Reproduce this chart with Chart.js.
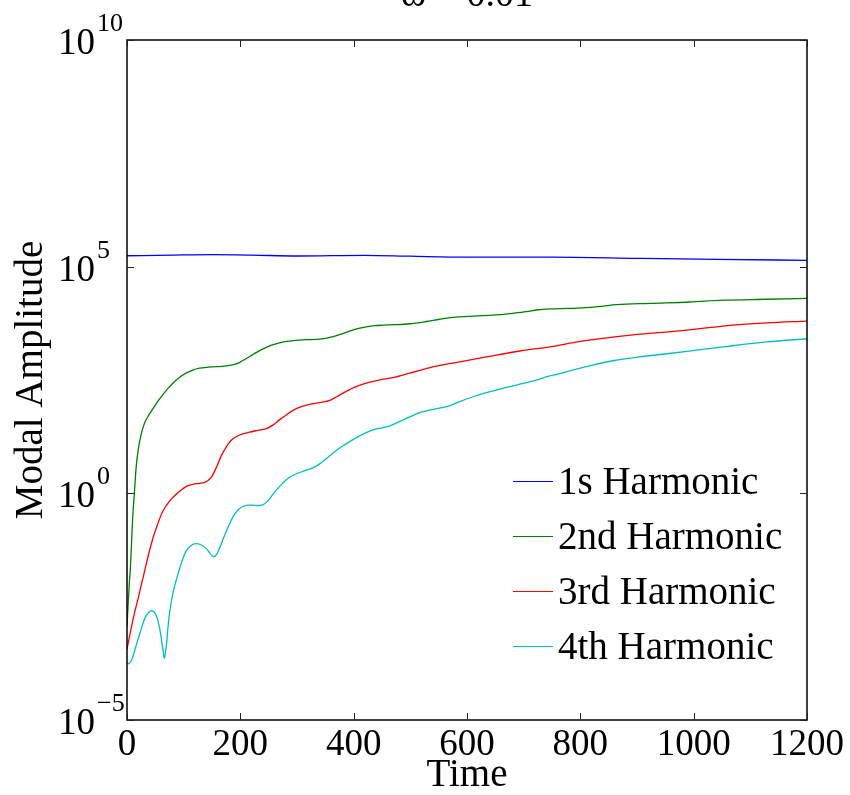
<!DOCTYPE html>
<html>
<head>
<meta charset="utf-8">
<script src="https://cdn.jsdelivr.net/npm/chart.js@4.4.0/dist/chart.umd.min.js"></script>
<style>
    html, body { margin: 0; padding: 0; background: #fff; }
    canvas { display: block; }
</style>
</head>
<body>
<canvas id="modalChart" width="850" height="795"></canvas>
<script>
const titleText = 'ω = 0.01';
const xTitle = 'Time';
const yTitle = 'Modal Amplitude';
const seriesNames = ['1s Harmonic', '2nd Harmonic', '3rd Harmonic', '4th Harmonic'];
const seriesColors = ['#0000ff', '#008000', '#ff0000', '#00bfbf'];

const xTicks = [0, 200, 400, 600, 800, 1000, 1200];
const yTickValues = [1e-5, 1, 1e5, 1e10];
const yTickExponents = ['\u22125', '0', '5', '10'];

// 1st harmonic
const time1 = [0, 80, 150, 220, 300, 420, 500, 600, 750, 900, 1040, 1200];
const amp1 = [1.74e5, 1.80e5, 1.84e5, 1.80e5, 1.72e5, 1.78e5, 1.70e5, 1.62e5, 1.62e5, 1.53e5, 1.45e5, 1.38e5];

// 2nd harmonic
const time2 = [0, 2, 4, 6, 8, 10, 13, 16, 20, 25, 31, 38, 45, 54, 63, 72, 81, 92, 104, 116,
    128, 140, 151, 166, 181, 191, 199, 210, 222, 234, 246, 258, 269, 281, 293, 316, 340, 358, 375, 398,
    422, 437, 452, 475, 499, 528, 552, 575, 611, 658, 680, 705, 725, 746, 780, 817, 840, 864, 923, 993,
    1052, 1129, 1200];
const amp2 = [1.15e-3, 3.55e-3, 1.0e-2, 2.24e-2, 7.94e-2, 0.282, 1.0, 3.55, 9.55, 20.0, 35.5, 52.5, 70.8, 105, 148, 204, 269, 355, 447, 525,
    575, 603, 617, 631, 661, 708, 776, 933, 1150, 1410, 1660, 1910, 2090, 2240, 2340, 2450, 2510, 2750, 3160, 3980,
    4680, 5010, 5130, 5250, 5500, 6170, 6920, 7590, 8130, 8710, 9330, 10200, 11200, 11700, 12000, 12600, 13500, 14500, 15500, 16600,
    18200, 19100, 20000];

// 3rd harmonic
const time3 = [0, 5, 10, 15, 20, 25, 31, 38, 46, 54, 63, 75, 87, 96, 104, 116, 128, 137, 143, 150,
    158, 166, 175, 184, 193, 204, 216, 231, 246, 258, 269, 281, 293, 305, 322, 340, 358, 370, 381, 400,
    422, 445, 469, 499, 540, 587, 634, 693, 746, 790, 822, 905, 981, 1052, 1129, 1200];
const amp3 = [3.63e-4, 7.59e-4, 1.51e-3, 2.82e-3, 5.01e-3, 9.33e-3, 1.91e-2, 4.47e-2, 0.105, 0.209, 0.398, 0.676, 0.955, 1.20, 1.41, 1.58, 1.66, 1.74, 1.91, 2.40,
    3.80, 6.61, 10.5, 14.8, 17.8, 20.4, 22.4, 24.5, 26.9, 32.4, 41.7, 53.7, 67.6, 79.4, 91.2, 100, 112, 135, 162, 214,
    269, 316, 355, 447, 617, 794, 1020, 1380, 1700, 2140, 2450, 3240, 3890, 4900, 5750, 6310];

// 4th harmonic
const time4 = [0, 3, 7, 10, 14, 19, 24, 28, 33, 37, 41, 44, 48, 51, 54, 57, 60, 62, 64, 66,
    68, 70, 72, 75, 78, 81, 86, 90, 97, 104, 112, 122, 131, 140, 147, 153, 158, 163, 169, 178,
    187, 195, 204, 219, 234, 240, 246, 257, 269, 281, 293, 305, 316, 328, 340, 352, 363, 378, 393, 408,
    422, 440, 463, 475, 487, 505, 522, 543, 564, 587, 611, 634, 658, 687, 717, 746, 764, 793, 822, 860,
    905, 945, 981, 1052, 1129, 1200];
const amp4 = [1.86e-4, 1.74e-4, 2.0e-4, 2.40e-4, 3.55e-4, 5.75e-4, 9.12e-4, 1.35e-3, 1.91e-3, 2.24e-3,
    2.51e-3, 2.57e-3, 2.40e-3, 2.09e-3, 1.66e-3, 1.15e-3, 7.08e-4, 4.68e-4, 3.16e-4, 2.29e-4,
    3.16e-4, 5.01e-4, 1.0e-3, 2.24e-3, 3.98e-3, 6.31e-3, 1.12e-2, 1.66e-2, 3.16e-2, 5.25e-2,
    6.92e-2, 7.76e-2, 7.24e-2, 6.03e-2, 4.68e-2, 3.98e-2, 4.47e-2, 6.03e-2, 9.33e-2, 0.174,
    0.302, 0.417, 0.513, 0.550, 0.537, 0.562, 0.631, 0.933, 1.41, 2.00,
    2.51, 2.88, 3.24, 3.63, 4.47, 5.89, 7.59, 10.5, 13.8, 17.8,
    21.9, 26.3, 30.2, 35.5, 41.7, 52.5, 63.1, 72.4, 81.3, 105,
    135, 166, 200, 245, 302, 389, 437, 550, 676, 851,
    1020, 1170, 1320, 1700, 2190, 2570];

const allTimes = [time1, time2, time3, time4];
const allAmps = [amp1, amp2, amp3, amp4];

const serif = 'Liberation Serif';
Chart.defaults.font.family = serif;
Chart.defaults.color = '#000';

// frame, inward ticks, y labels with exponents, title and legend
const matlabLook = {
    id: 'matlabLook',
    afterDraw(chart) {
        const {ctx, chartArea: a, scales: {x, y}} = chart;
        ctx.save();
        ctx.strokeStyle = '#000';
        ctx.lineWidth = 1.5;
        ctx.strokeRect(a.left, a.top, a.right - a.left, a.bottom - a.top);

        ctx.lineWidth = 1;
        ctx.strokeStyle = '#222';
        ctx.beginPath();
        x.ticks.forEach(t => {
            const px = Math.round(x.getPixelForValue(t.value)) + 0.5;
            ctx.moveTo(px, a.bottom); ctx.lineTo(px, a.bottom - 7);
            ctx.moveTo(px, a.top); ctx.lineTo(px, a.top + 7);
        });
        y.ticks.forEach(t => {
            const py = Math.round(y.getPixelForValue(t.value)) + 0.5;
            ctx.moveTo(a.left, py); ctx.lineTo(a.left + 7, py);
            ctx.moveTo(a.right, py); ctx.lineTo(a.right - 7, py);
        });
        ctx.stroke();

        ctx.fillStyle = '#000';
        ctx.textBaseline = 'alphabetic';
        yTickValues.forEach((v, i) => {
            const py = y.getPixelForValue(v);
            ctx.font = '37px "' + serif + '"';
            ctx.textAlign = 'right';
            ctx.fillText('10', 95, py + 14);
            ctx.font = '26px "' + serif + '"';
            ctx.textAlign = 'left';
            ctx.fillText(yTickExponents[i], 97, py - 9);
        });

        // title, mostly above the top edge
        ctx.font = '38px "' + serif + '"';
        ctx.textAlign = 'center';
        ctx.fillText(titleText, (a.left + a.right) / 2, 6);

        // legend
        const rowY = [481, 536, 591, 646];
        ctx.font = '39px "' + serif + '"';
        chart.data.datasets.forEach((ds, i) => {
            ctx.strokeStyle = ds.borderColor;
            ctx.lineWidth = 1;
            ctx.beginPath();
            ctx.moveTo(513, rowY[i] + 0.5);
            ctx.lineTo(553, rowY[i] + 0.5);
            ctx.stroke();
            ctx.textAlign = 'left';
            ctx.fillStyle = '#000';
            ctx.fillText(ds.label, 558, rowY[i] + 13);
        });
        ctx.restore();
    }
};

const ctx = document.getElementById('modalChart').getContext('2d');

const chart = new Chart(ctx, {
    type: 'line',
    data: {
        datasets: seriesNames.map((name, i) => ({
            label: name,
            data: allTimes[i].map((t, j) => ({x: t, y: allAmps[i][j]})),
            borderColor: seriesColors[i],
            borderWidth: 1.3,
            pointRadius: 0,
            fill: false,
            cubicInterpolationMode: 'monotone'
        }))
    },
    options: {
        responsive: false,
        animation: false,
        devicePixelRatio: 1,
        layout: {
            padding: {left: 0, right: 43, top: 40, bottom: 0}
        },
        plugins: {
            legend: {display: false},
            tooltip: {enabled: false},
            title: {display: false}
        },
        scales: {
            x: {
                type: 'linear',
                min: 0,
                max: 1200,
                afterBuildTicks: s => { s.ticks = xTicks.map(v => ({value: v})); },
                afterFit: s => { s.height = 75; },
                grid: {display: false, drawTicks: false},
                border: {display: false},
                ticks: {
                    color: '#000',
                    font: {family: serif, size: 37},
                    padding: 3,
                    maxRotation: 0,
                    autoSkip: false,
                    callback: v => String(v)
                },
                title: {
                    display: true,
                    text: xTitle,
                    color: '#000',
                    font: {family: serif, size: 39, lineHeight: 1},
                    padding: 0
                }
            },
            y: {
                type: 'logarithmic',
                min: 1e-5,
                max: 1e10,
                afterBuildTicks: s => { s.ticks = yTickValues.map(v => ({value: v})); },
                afterFit: s => { s.width = 127; },
                grid: {display: false, drawTicks: false},
                border: {display: false},
                ticks: {display: false},
                title: {
                    display: true,
                    text: yTitle,
                    color: '#000',
                    font: {family: serif, size: 39, lineHeight: 1},
                    padding: {top: 12, bottom: 0}
                }
            }
        }
    },
    plugins: [matlabLook]
});
</script>
</body>
</html>
